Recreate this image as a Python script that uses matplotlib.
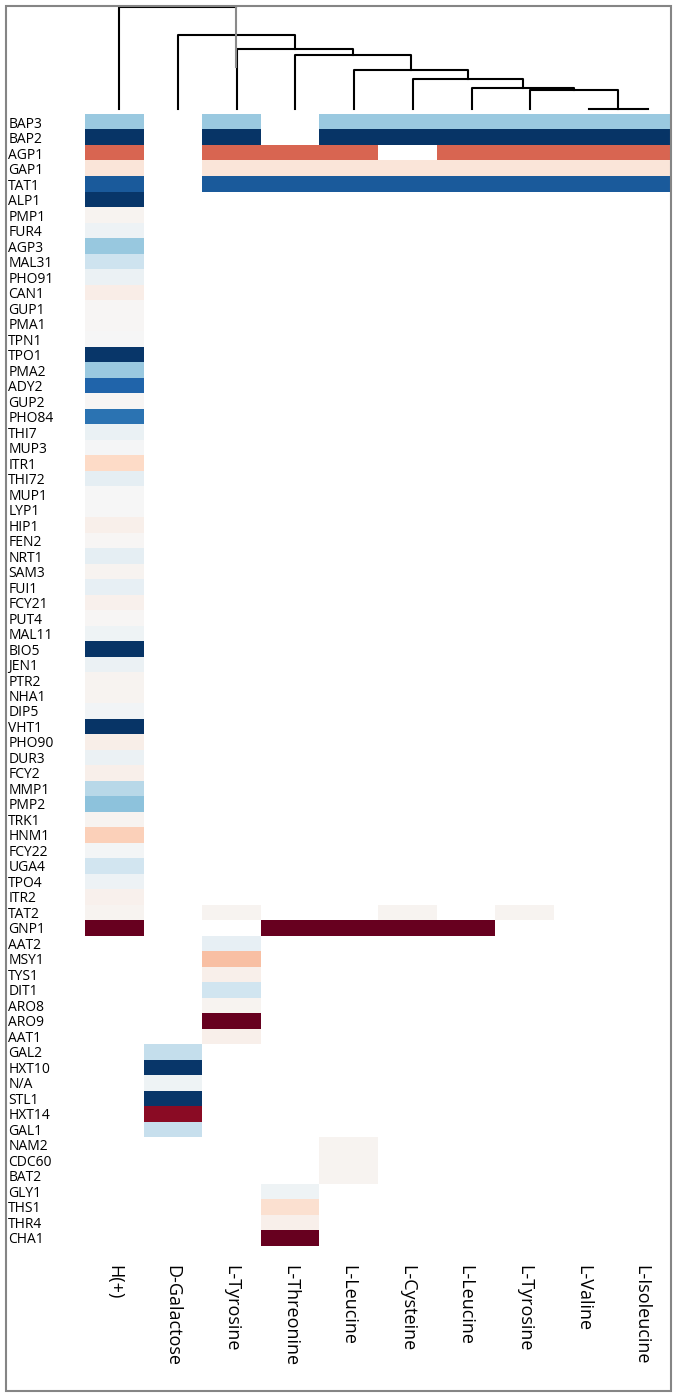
import numpy as np
import matplotlib
matplotlib.use('Agg')
import matplotlib.pyplot as plt
from matplotlib.patches import Rectangle

plt.rcParams['font.family'] = ['Open Sans', 'DejaVu Sans']

# transporter genes (rows) and their response score
genes = ['BAP3', 'BAP2', 'AGP1', 'GAP1', 'TAT1', 'ALP1', 'PMP1', 'FUR4', 'AGP3', 'MAL31',
         'PHO91', 'CAN1', 'GUP1', 'PMA1', 'TPN1', 'TPO1', 'PMA2', 'ADY2', 'GUP2', 'PHO84',
         'THI7', 'MUP3', 'ITR1', 'THI72', 'MUP1', 'LYP1', 'HIP1', 'FEN2', 'NRT1', 'SAM3',
         'FUI1', 'FCY21', 'PUT4', 'MAL11', 'BIO5', 'JEN1', 'PTR2', 'NHA1', 'DIP5', 'VHT1',
         'PHO90', 'DUR3', 'FCY2', 'MMP1', 'PMP2', 'TRK1', 'HNM1', 'FCY22', 'UGA4', 'TPO4',
         'ITR2', 'TAT2', 'GNP1', 'AAT2', 'MSY1', 'TYS1', 'DIT1', 'ARO8', 'ARO9', 'AAT1',
         'GAL2', 'HXT10', 'N/A', 'STL1', 'HXT14', 'GAL1', 'NAM2', 'CDC60', 'BAT2', 'GLY1',
         'THS1', 'THR4', 'CHA1']
scores = [0.37, 0.98, -0.58, -0.12, 0.84, 0.97, -0.03, 0.05, 0.38, 0.21,
          0.06, -0.07, -0.01, -0.01, 0.00, 0.97, 0.37, 0.80, -0.01, 0.74,
          0.07, 0.01, -0.20, 0.09, 0.00, 0.00, -0.05, -0.01, 0.09, -0.03,
          0.08, -0.04, -0.01, 0.04, 0.98, 0.06, -0.03, -0.03, 0.03, 0.98,
          -0.06, 0.06, -0.05, 0.28, 0.41, -0.03, -0.24, 0.02, 0.19, 0.05,
          -0.04, -0.03, -1.00, 0.08, -0.30, -0.05, 0.20, -0.03, -1.00, -0.05,
          0.24, 0.97, 0.04, 0.97, -0.90, 0.23, -0.03, -0.03, -0.03, 0.04,
          -0.16, -0.05, -1.00]

# substrates (columns) in dendrogram leaf order
substrates = ['H(+)', 'D-Galactose', 'L-Tyrosine', 'L-Threonine', 'L-Leucine',
              'L-Cysteine', 'L-Leucine', 'L-Tyrosine', 'L-Valine', 'L-Isoleucine']

# genes linked to each substrate
h_plus = genes[:genes.index('GNP1') + 1]
d_galactose = ['GAL2', 'HXT10', 'N/A', 'STL1', 'HXT14', 'GAL1']
l_tyrosine_a = ['BAP3', 'BAP2', 'AGP1', 'GAP1', 'TAT1', 'TAT2', 'AAT2', 'MSY1',
                'TYS1', 'DIT1', 'ARO8', 'ARO9', 'AAT1']
l_threonine = ['AGP1', 'GAP1', 'TAT1', 'GNP1', 'GLY1', 'THS1', 'THR4', 'CHA1']
l_leucine_a = ['BAP3', 'BAP2', 'AGP1', 'GAP1', 'TAT1', 'GNP1', 'NAM2', 'CDC60', 'BAT2']
l_cysteine = ['BAP3', 'BAP2', 'GAP1', 'TAT1', 'TAT2', 'GNP1']
l_leucine_b = ['BAP3', 'BAP2', 'AGP1', 'GAP1', 'TAT1', 'GNP1']
l_tyrosine_b = ['BAP3', 'BAP2', 'AGP1', 'GAP1', 'TAT1', 'TAT2']
l_valine = ['BAP3', 'BAP2', 'AGP1', 'GAP1', 'TAT1']
l_isoleucine = ['BAP3', 'BAP2', 'AGP1', 'GAP1', 'TAT1']
members = [h_plus, d_galactose, l_tyrosine_a, l_threonine, l_leucine_a,
           l_cysteine, l_leucine_b, l_tyrosine_b, l_valine, l_isoleucine]

# column clustering: (left node, right node, height); new nodes numbered from 10
merges = [(8, 9, 0.0), (7, 10, 18.7), (6, 11, 20.4), (5, 12, 30.0), (4, 13, 38.7),
          (3, 14, 53.7), (2, 15, 59.7), (1, 16, 74.0), (0, 17, 101.4)]

W, H = 675, 1393
fig = plt.figure(figsize=(W / 100, H / 100), dpi=100)

# heatmap
mat = np.full((len(genes), len(substrates)), np.nan)
for j, col in enumerate(members):
    for g in col:
        i = genes.index(g)
        mat[i, j] = scores[i]

hx0, hx1, hy0, hy1 = 84.7, 670.7, 114.3, 1245.7
ax = fig.add_axes([hx0 / W, 1 - hy1 / H, (hx1 - hx0) / W, (hy1 - hy0) / H])
cmap = plt.get_cmap('RdBu').copy()
cmap.set_bad('white')
ax.imshow(np.ma.masked_invalid(mat), cmap=cmap, vmin=-1, vmax=1, aspect='auto',
          interpolation='nearest')
for s in ax.spines.values():
    s.set_visible(False)
ax.set_xticks(range(len(substrates)))
ax.set_xticklabels(substrates, rotation=-90, ha='center', va='top', fontsize=13)
ax.set_yticks(range(len(genes)))
ax.set_yticklabels(genes, ha='left', fontsize=10)
ax.tick_params(axis='x', length=0, pad=14)
ax.tick_params(axis='y', length=0, pad=55)

# dendrogram over the columns
lx0 = 89.95
dx = 587.1
dtop, dbase = 7.3, 108.7
dax = fig.add_axes([lx0 / W, 1 - dbase / H, dx / W, (dbase - dtop) / H])
dax.set_xlim(0, 100)
dax.set_ylim(0, merges[-1][2])
dax.axis('off')

xpos = {i: 5 + 10 * i for i in range(len(substrates))}
hpos = {i: 0.0 for i in range(len(substrates))}
for k, (a, b, h) in enumerate(merges):
    node = len(substrates) + k
    xa, xb = xpos[a], xpos[b]
    if k == len(merges) - 1:
        # top link: right leg drawn separately, longer and lighter
        dax.plot([xa, xa, xb], [hpos[a], h, h], color='black', lw=1.5, clip_on=False)
        dax.plot([xb, xb], [h, hpos[b] * 0.57], color='#8a8a8a', lw=1.5, clip_on=False)
    else:
        dax.plot([xa, xa, xb, xb], [hpos[a], h, h, hpos[b]], color='black', lw=1.5,
                 clip_on=False)
    xpos[node] = (xa + xb) / 2
    hpos[node] = h

# grey frame around the figure
fig.patches.append(Rectangle((6 / W, 1 - 1391 / H), 665 / W, 1385 / H,
                             transform=fig.transFigure, fill=False,
                             edgecolor='#858585', lw=1.5))

fig.savefig('out.png', dpi=100)
